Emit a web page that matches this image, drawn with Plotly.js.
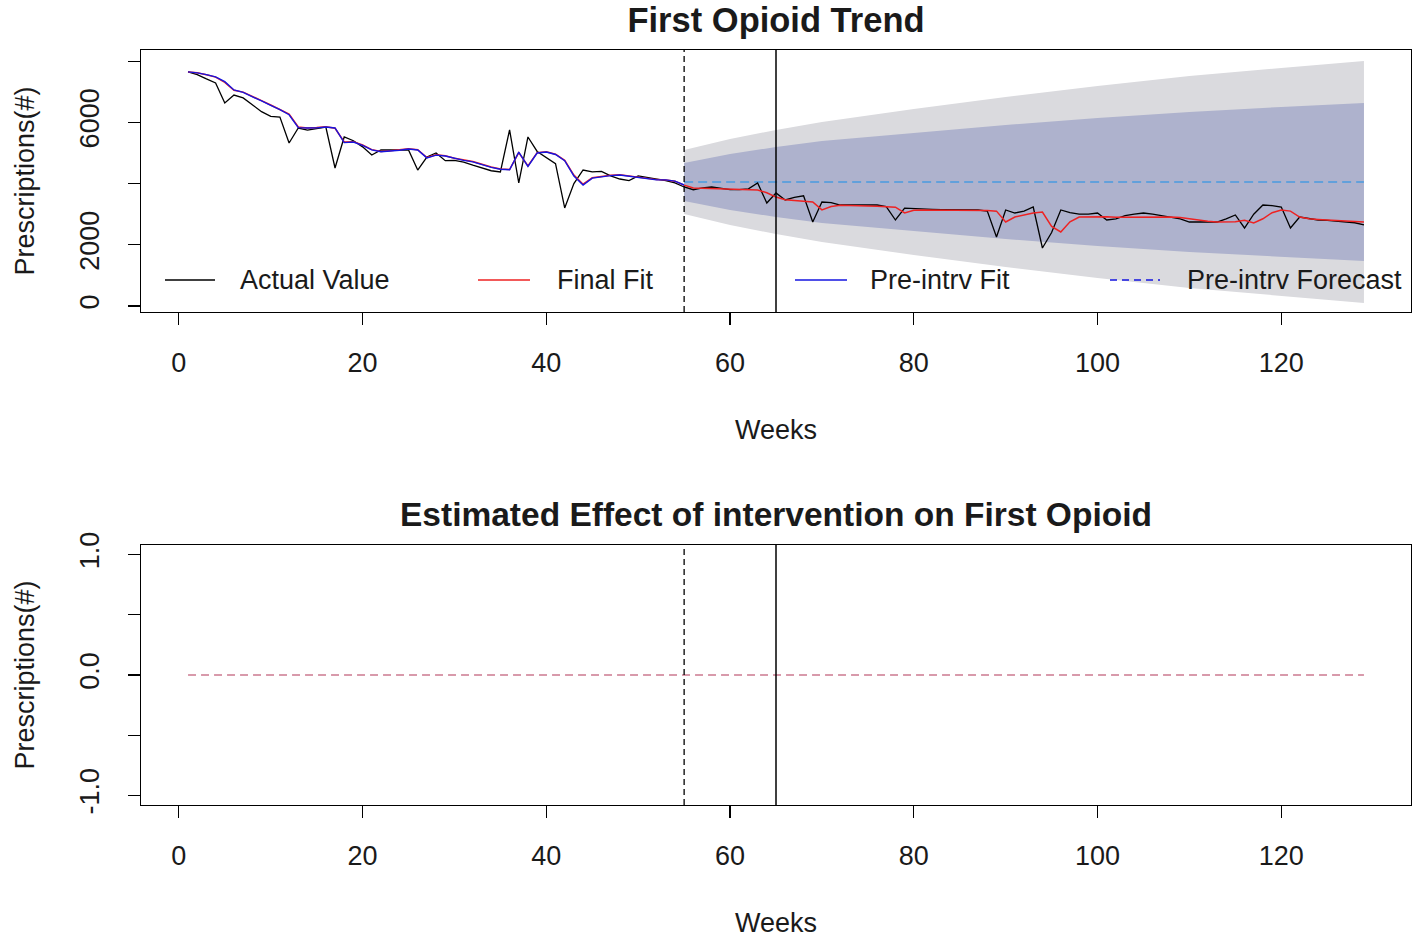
<!DOCTYPE html>
<html>
<head>
<meta charset="utf-8">
<script src="https://cdn.plot.ly/plotly-3.0.1.min.js"></script>
<style>html,body{margin:0;padding:0;background:#fff;}#chart{width:1418px;height:945px;}</style>
</head>
<body>
<div id="chart"></div>
<script>
// ---------------- data ----------------
const weeks = [1,2,3,4,5,6,7,8,9,10,11,12,13,14,15,16,17,18,19,20,21,22,23,24,25,26,27,28,29,30,
  31,32,33,34,35,36,37,38,39,40,41,42,43,44,45,46,47,48,49,50,51,52,53,54,55,56,57,58,59,60,
  61,62,63,64,65,66,67,68,69,70,71,72,73,74,75,76,77,78,79,80,81,82,83,84,85,86,87,88,89,90,
  91,92,93,94,95,96,97,98,99,100,101,102,103,104,105,106,107,108,109,110,111,112,113,114,115,
  116,117,118,119,120,121,122,123,124,125,126,127,128,129];
const preWeeks = weeks.slice(0, 55);

const actualValue = [
  7650,7560,7420,7290,6634,6895,6800,6560,6350,6200,
  6176,5327,5817,5750,5790,5850,4510,5523,5400,5200,
  4935,5098,5098,5098,5098,4444,4869,5000,4750,4760,
  4700,4600,4500,4420,4379,5752,4020,5523,5050,4850,
  4650,3203,4000,4444,4380,4400,4250,4150,4100,4250,
  4200,4170,4100,4020,3889,3800,3860,3889,3850,3800,
  3800,3830,4020,3366,3693,3464,3550,3600,2745,3399,
  3380,3300,3300,3300,3300,3300,3250,2810,3200,3180,
  3170,3160,3150,3150,3140,3140,3137,3100,2255,3137,
  3039,3100,3235,1895,2400,3137,3050,3000,3000,3039,
  2810,2850,2950,3000,3039,3000,2950,2908,2850,2745,
  2750,2760,2745,2850,2974,2549,3000,3300,3280,3235,
  2549,2908,2850,2810,2800,2780,2745,2720,2647];

const finalFit = [
  7650,7620,7560,7480,7310,7050,6990,6860,6710,6570,
  6430,6270,5850,5820,5830,5860,5810,5360,5370,5260,
  5110,5050,5070,5100,5140,5110,4850,4940,4910,4830,
  4770,4720,4630,4540,4480,4460,5010,4580,5010,5040,
  4960,4760,4280,3980,4190,4240,4270,4290,4250,4210,
  4150,4130,4120,4080,3950,
  3860,3850,3840,3830,3810,3800,3790,3790,3700,3560,
  3470,3450,3430,3400,3140,3250,3290,3290,3280,3270,
  3260,3240,3230,3040,3130,3140,3140,3140,3140,3140,
  3140,3130,3120,3100,2745,2908,2980,3040,3072,2600,
  2418,2750,2908,2920,2920,2920,2900,2900,2910,2920,
  2920,2910,2908,2890,2850,2800,2770,2745,2740,2750,
  2800,2712,2850,3050,3137,3100,2908,2850,2830,2810,
  2790,2770,2750,2745];

const preIntrvFit = [
  7650,7620,7560,7490,7330,7060,6980,6850,6700,6560,
  6420,6250,5830,5817,5820,5850,5817,5340,5360,5250,
  5100,5040,5060,5090,5130,5100,4840,4930,4900,4820,
  4760,4710,4620,4530,4470,4450,5030,4560,5000,5030,
  4950,4750,4250,3954,4180,4230,4260,4280,4240,4200,
  4140,4120,4120,4080,3954];

const forecastWeeks = [55, 129];
const forecastValues = [4050, 4050];

const bandWeeks  = [55, 60, 65, 70, 80, 90, 100, 110, 120, 129];
const innerUpper = [4673,4967,5196,5392,5654,5915,6144,6340,6503,6634];
const innerLower = [3431,3137,2908,2712,2451,2190,1961,1765,1601,1471];
const outerUpper = [5098,5458,5752,6013,6438,6830,7190,7516,7778,8007];
const outerLower = [3007,2647,2353,2092,1667,1275, 915, 588, 327,  98];

const effectWeeks = [1, 129];
const effectValues = [0, 0];

const xTicks = [0, 20, 40, 60, 80, 100, 120];
const yTopTicks = [0, 2000, 4000, 6000, 8000];
const yTopTickText = ["0", "2000", "", "6000", ""];
const yBotTicks = [-1, -0.5, 0, 0.5, 1];
const yBotTickText = ["-1.0", "", "0.0", "", "1.0"];

const interventionStart = 55;
const interventionEnd = 65;

// ---------------- styling ----------------
const FONT = "Liberation Sans, Arial, sans-serif";
const TXT = "#1a1a1a";
const FS = 27;

function poly(xs, up, lo) {
  return { x: xs.concat(xs.slice().reverse()), y: up.concat(lo.slice().reverse()) };
}
const outerPoly = poly(bandWeeks, outerUpper, outerLower);
const innerPoly = poly(bandWeeks, innerUpper, innerLower);

const traces = [
  { x: outerPoly.x, y: outerPoly.y, xaxis: 'x', yaxis: 'y', type: 'scatter', mode: 'lines',
    fill: 'toself', fillcolor: '#DADADE', line: { width: 0, color: 'rgba(0,0,0,0)' }, showlegend: false, hoverinfo: 'skip' },
  { x: innerPoly.x, y: innerPoly.y, xaxis: 'x', yaxis: 'y', type: 'scatter', mode: 'lines',
    fill: 'toself', fillcolor: '#AEB2CD', line: { width: 0, color: 'rgba(0,0,0,0)' }, showlegend: false, hoverinfo: 'skip' },
  { x: forecastWeeks, y: forecastValues, xaxis: 'x', yaxis: 'y', type: 'scatter', mode: 'lines',
    line: { color: '#4A9BE0', width: 1.5, dash: '9px,5px' }, showlegend: false },
  { x: weeks, y: actualValue, xaxis: 'x', yaxis: 'y', type: 'scatter', mode: 'lines',
    line: { color: '#000000', width: 1.3 }, showlegend: false },
  { x: weeks, y: finalFit, xaxis: 'x', yaxis: 'y', type: 'scatter', mode: 'lines',
    line: { color: '#EE2222', width: 1.5 }, showlegend: false },
  { x: preWeeks, y: preIntrvFit, xaxis: 'x', yaxis: 'y', type: 'scatter', mode: 'lines',
    line: { color: '#1515E0', width: 1.4 }, showlegend: false },
  { x: effectWeeks, y: effectValues, xaxis: 'x2', yaxis: 'y2', type: 'scatter', mode: 'lines',
    line: { color: '#CC7A90', width: 1.5, dash: '8px,5px' }, showlegend: false }
];

// manual R-style legend (px -> paper)
const plotL = 141, plotW = 1270, plotT = 50, plotB = 805, plotH = plotB - plotT;
const px = v => (v - plotL) / plotW;
const py = v => (plotB - v) / plotH;
const legY = py(280);
const legendItems = [
  { l0: 165, l1: 215, t: 238, label: 'Actual Value', color: '#000000', dash: 'solid' },
  { l0: 478, l1: 530, t: 555, label: 'Final Fit', color: '#EE2222', dash: 'solid' },
  { l0: 795, l1: 847, t: 868, label: 'Pre-intrv Fit', color: '#1515E0', dash: 'solid' },
  { l0: 1110, l1: 1160, t: 1185, label: 'Pre-intrv Forecast', color: '#1515E0', dash: '7px,5px' }
];

const shapes = [];
const annotations = [];
legendItems.forEach(it => {
  shapes.push({ type: 'line', xref: 'paper', yref: 'paper', x0: px(it.l0), x1: px(it.l1), y0: legY, y1: legY,
    line: { color: it.color, width: 1.5, dash: it.dash } });
  annotations.push({ xref: 'paper', yref: 'paper', x: px(it.t), y: legY, xanchor: 'left', yanchor: 'middle',
    text: it.label, showarrow: false, font: { family: FONT, size: FS, color: TXT } });
});

[['x', 'y'], ['x2', 'y2']].forEach(([xa, ya]) => {
  shapes.push({ type: 'line', xref: xa, yref: ya + ' domain', x0: interventionStart, x1: interventionStart, y0: 0, y1: 1,
    line: { color: '#000', width: 1.3, dash: '6px,4px' } });
  shapes.push({ type: 'line', xref: xa, yref: ya + ' domain', x0: interventionEnd, x1: interventionEnd, y0: 0, y1: 1,
    line: { color: '#000', width: 1.5 } });
});

annotations.push({ xref: 'paper', yref: 'paper', x: 0.5, y: py(514), xanchor: 'center', yanchor: 'middle',
  text: '<b>Estimated Effect of intervention on First Opioid</b>', showarrow: false,
  font: { family: FONT, size: 33.5, color: TXT } });

const xAxisCommon = {
  range: [-4.12, 134.12], tickvals: xTicks, ticks: 'outside', ticklen: 12, tickwidth: 1.2, tickcolor: '#000',
  showline: true, mirror: true, linecolor: '#000', linewidth: 1.3, showgrid: false, zeroline: false,
  tickfont: { family: FONT, size: FS, color: TXT }, ticklabelstandoff: 14,
  title: { text: 'Weeks', font: { family: FONT, size: FS, color: TXT }, standoff: 43 }
};
const yAxisCommon = {
  ticks: 'outside', ticklen: 12, tickwidth: 1.2, tickcolor: '#000', tickangle: -90,
  showline: true, mirror: true, linecolor: '#000', linewidth: 1.3, showgrid: false, zeroline: false,
  tickfont: { family: FONT, size: FS, color: TXT }, ticklabelstandoff: 18,
  title: { text: 'Prescriptions(#)', font: { family: FONT, size: FS, color: TXT }, standoff: 32 }
};

const layout = {
  width: 1418, height: 945,
  margin: { l: 141, r: 7, t: 50, b: 140 },
  paper_bgcolor: '#fff', plot_bgcolor: '#fff',
  showlegend: false,
  title: { text: '<b>First Opioid Trend</b>', font: { family: FONT, size: 34.5, color: TXT },
    x: 0.5, xref: 'paper', y: 1 - 20 / 945, yref: 'container', yanchor: 'middle' },
  xaxis: Object.assign({}, xAxisCommon, { domain: [0, 1], anchor: 'y' }),
  yaxis: Object.assign({}, yAxisCommon, { domain: [0.653, 1], anchor: 'x', range: [-196, 8366],
    tickvals: yTopTicks, ticktext: yTopTickText }),
  xaxis2: Object.assign({}, xAxisCommon, { domain: [0, 1], anchor: 'y2' }),
  yaxis2: Object.assign({}, yAxisCommon, { domain: [0, 0.3444], anchor: 'x2', range: [-1.08, 1.08],
    tickvals: yBotTicks, ticktext: yBotTickText }),
  shapes: shapes,
  annotations: annotations
};

Plotly.newPlot('chart', traces, layout, { staticPlot: true, displayModeBar: false });
</script>
</body>
</html>
